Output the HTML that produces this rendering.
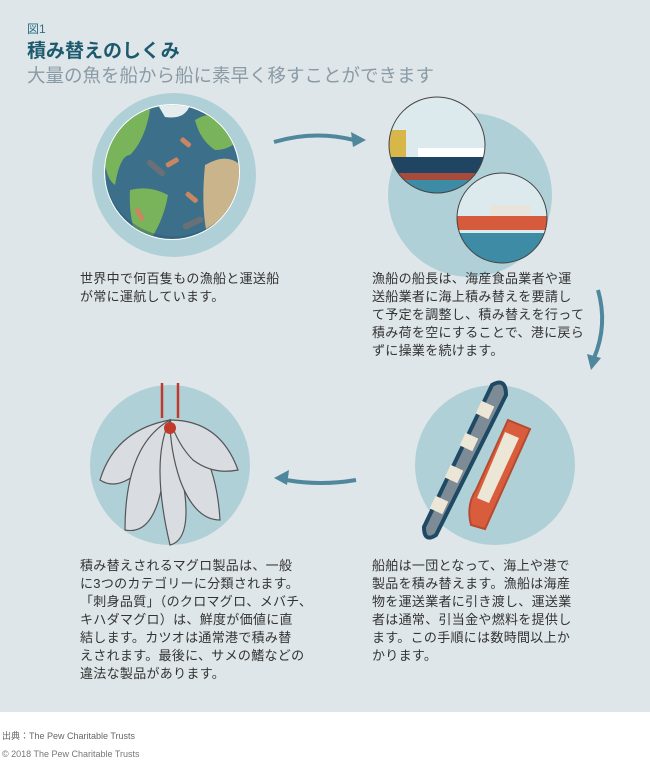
<!DOCTYPE html>
<html><head><meta charset="utf-8"><style>
body{margin:0;width:650px;height:761px;background:#fff;font-family:"Liberation Sans","Noto Sans CJK JP",sans-serif;position:relative;overflow:hidden}
.panel{position:absolute;left:0;top:0;width:650px;height:712px;background:#dfe6e9}
.t{position:absolute;font-size:13px;letter-spacing:0.3px;line-height:18px;color:#333;white-space:nowrap}
svg{position:absolute;left:0;top:0}
</style></head><body>
<div class="panel"></div>
<div style="position:absolute;left:27px;top:20px;font-size:12px;color:#2b6f86">図1</div>
<div style="position:absolute;left:27px;top:36px;font-size:19px;font-weight:bold;color:#1d5a6e">積み替えのしくみ</div>
<div style="position:absolute;left:27px;top:62px;font-size:18.5px;color:#8a9ba6">大量の魚を船から船に素早く移すことができます</div>
<svg width="650" height="712" viewBox="0 0 650 712">
<defs>
<clipPath id="g"><circle cx="172" cy="172" r="67"/></clipPath>
<clipPath id="s1"><circle cx="437" cy="145" r="48"/></clipPath>
<clipPath id="s2"><circle cx="502" cy="218" r="45"/></clipPath>
</defs>
<circle cx="174" cy="175" r="82" fill="#afd0d7"/>
<circle cx="172" cy="172" r="68" fill="#fff"/>
<g clip-path="url(#g)">
<circle cx="172" cy="172" r="67" fill="#3b6f8a"/>
<path d="M105 120 q20 -20 45 -10 q-5 30 -20 45 q-10 0 -15 30 q-15 -10 -10 -65z" fill="#79b35a"/>
<path d="M130 190 q20 -5 38 5 q-5 30 -25 55 q-15 -25 -13 -60z" fill="#79b35a"/>
<path d="M205 165 q25 -15 40 5 v50 q-20 20 -35 25 q-10 -30 -5 -80z" fill="#c9b48c"/>
<path d="M195 120 q25 -15 50 10 q-10 20 -30 20 q-15 -10 -20 -30z" fill="#79b35a"/>
<path d="M155 100 q20 -5 35 5 q-5 15 -25 12z" fill="#e4ecee"/>
<path d="M104 172 a68 68 0 0 0 130 30 a70 70 0 0 1 -130 -30z" fill="#2f5d75" opacity=".5"/>
</g>
<rect x="145" y="165" width="22" height="6" rx="3" fill="#6a7078" transform="rotate(40 156 168)"/>
<rect x="165" y="160" width="14" height="5" rx="2" fill="#c98662" transform="rotate(-30 172 162)"/>
<rect x="180" y="140" width="12" height="5" rx="2" fill="#c98662" transform="rotate(40 186 142)"/>
<rect x="185" y="195" width="14" height="5" rx="2" fill="#c98662" transform="rotate(40 192 197)"/>
<rect x="182" y="220" width="22" height="6" rx="3" fill="#6a7078" transform="rotate(-25 193 223)"/>
<rect x="133" y="212" width="14" height="5" rx="2" fill="#c98662" transform="rotate(60 140 214)"/>
<circle cx="470" cy="195" r="82" fill="#afd0d7"/>
<circle cx="437" cy="145" r="48" fill="#dceaee"/>
<g clip-path="url(#s1)">
<path d="M385 157 h122 l-6 16 h-116z" fill="#1f4563"/>
<path d="M385 173 h115 l-4 7 h-111z" fill="#a84a3c"/>
<rect x="418" y="148" width="70" height="9" fill="#fff"/>
<rect x="383" y="130" width="23" height="27" fill="#d7b64a"/>
<rect x="380" y="180" width="110" height="20" fill="#3e8ba5"/>
</g>
<circle cx="437" cy="145" r="48" fill="none" stroke="#444" stroke-width="1"/>
<circle cx="502" cy="218" r="45" fill="#dceaee"/>
<g clip-path="url(#s2)">
<path d="M448 216 h110 v14 h-102z" fill="#d65a3c"/>
<rect x="490" y="205" width="40" height="11" fill="#e8e4dc"/>
<rect x="450" y="233" width="110" height="40" fill="#3e8ba5"/>
</g>
<circle cx="502" cy="218" r="45" fill="none" stroke="#444" stroke-width="1"/>
<circle cx="170" cy="465" r="80" fill="#afd0d7"/>
<path d="M162 383 v35 M178 383 v35" stroke="#c0392b" stroke-width="2.5"/>
<g fill="#d9dde2" stroke="#555" stroke-width="1.2">
<path d="M170 420 q-55 10 -70 60 q15 10 35 -5 q25 -25 35 -55z"/>
<path d="M170 420 q-45 25 -45 110 q25 5 35 -35 q10 -40 10 -75z"/>
<path d="M170 420 q-20 40 0 125 q20 -5 15 -50 q-5 -40 -15 -75z"/>
<path d="M170 420 q45 20 50 100 q-25 0 -40 -40 q-10 -30 -10 -60z"/>
<path d="M170 420 q50 0 68 50 q-25 5 -45 -10 q-15 -15 -23 -40z"/>
</g>
<circle cx="170" cy="428" r="6" fill="#c0392b"/>
<circle cx="495" cy="465" r="80" fill="#afd0d7"/>
<path d="M492 385 q14 -8 14 10 l-70 140 q-12 8 -12 -8z" fill="#7c8b96" stroke="#1f4a63" stroke-width="4"/>
<path d="M508 420 l22 9 l-45 100 l-14 -4 q-5 -20 5 -35z" fill="#d95d3c" stroke="#b54a30" stroke-width="2"/>
<path d="M505 432 l14 6 l-30 65 l-12 -5z" fill="#ebe6d6"/>
<rect x="478" y="403" width="14" height="14" fill="#ebe6d6" transform="rotate(25 485 410)"/>
<rect x="462" y="435" width="14" height="14" fill="#ebe6d6" transform="rotate(25 469 442)"/>
<rect x="447" y="467" width="14" height="14" fill="#ebe6d6" transform="rotate(25 454 474)"/>
<rect x="432" y="498" width="14" height="14" fill="#ebe6d6" transform="rotate(25 439 505)"/>
<g fill="none" stroke="#4f879c" stroke-width="4">
<path d="M274 142 q40 -12 80 -2"/>
<path d="M598 290 q10 35 -4 68"/>
<path d="M356 480 q-35 6 -70 0"/>
</g>
<g fill="#4f879c">
<path d="M366 140 l-15 -8 l2 15z"/>
<path d="M591 370 l-4 -16 l14 4z"/>
<path d="M274 478 l15 -8 l-2 15z"/>
</g>
</svg>
<div class="t" style="left:80px;top:270px">世界中で何百隻もの漁船と運送船<br>が常に運航しています。</div>
<div class="t" style="left:372px;top:270px">漁船の船長は、海産食品業者や運<br>送船業者に海上積み替えを要請し<br>て予定を調整し、積み替えを行って<br>積み荷を空にすることで、港に戻ら<br>ずに操業を続けます。</div>
<div class="t" style="left:80px;top:557px">積み替えされるマグロ製品は、一般<br>に3つのカテゴリーに分類されます。<br>「刺身品質」（のクロマグロ、メバチ、<br>キハダマグロ）は、鮮度が価値に直<br>結します。カツオは通常港で積み替<br>えされます。最後に、サメの鰭などの<br>違法な製品があります。</div>
<div class="t" style="left:372px;top:557px">船舶は一団となって、海上や港で<br>製品を積み替えます。漁船は海産<br>物を運送業者に引き渡し、運送業<br>者は通常、引当金や燃料を提供し<br>ます。この手順には数時間以上か<br>かります。</div>
<div style="position:absolute;left:2px;top:729px;font-size:9px;color:#666">出典：The Pew Charitable Trusts</div>
<div style="position:absolute;left:2px;top:749px;font-size:9px;color:#777">© 2018 The Pew Charitable Trusts</div>
</body></html>
